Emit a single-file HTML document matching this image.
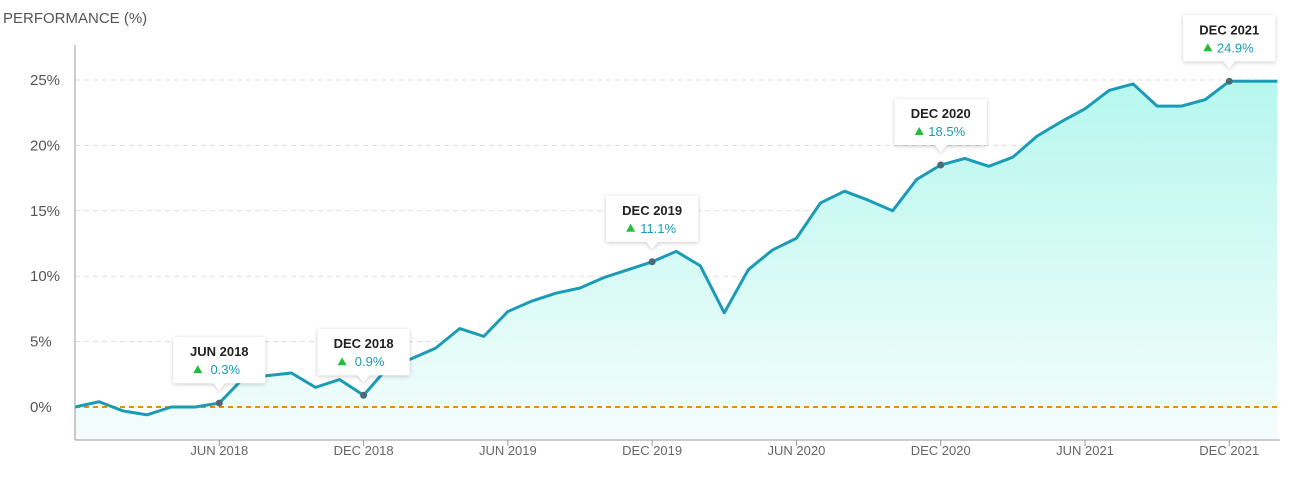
<!DOCTYPE html>
<html><head><meta charset="utf-8"><style>
body{margin:0;background:#fff;font-family:"Liberation Sans",sans-serif}
svg text{font-family:"Liberation Sans",sans-serif}
</style></head><body>
<svg id="c" width="1290" height="490" viewBox="0 0 1290 490">
<defs>
<linearGradient id="ag" x1="0" y1="0" x2="0" y2="1"><stop offset="0" stop-color="#b6f7ee"/><stop offset="1" stop-color="#f5fdfc"/></linearGradient>
<filter id="sh" x="-20%" y="-20%" width="140%" height="160%"><feDropShadow dx="0" dy="1" stdDeviation="2" flood-color="#000" flood-opacity="0.22"/></filter>
</defs>
<text x="3" y="23" font-size="15" fill="#555">PERFORMANCE (%)</text>
<g id="grid"></g><g id="area"></g><g id="axes"></g><g id="tips"></g>
</svg>
<script>
const months=["DEC 2017","JAN 2018","FEB 2018","MAR 2018","APR 2018","MAY 2018","JUN 2018","JUL 2018","AUG 2018","SEP 2018","OCT 2018","NOV 2018","DEC 2018","JAN 2019","FEB 2019","MAR 2019","APR 2019","MAY 2019","JUN 2019","JUL 2019","AUG 2019","SEP 2019","OCT 2019","NOV 2019","DEC 2019","JAN 2020","FEB 2020","MAR 2020","APR 2020","MAY 2020","JUN 2020","JUL 2020","AUG 2020","SEP 2020","OCT 2020","NOV 2020","DEC 2020","JAN 2021","FEB 2021","MAR 2021","APR 2021","MAY 2021","JUN 2021","JUL 2021","AUG 2021","SEP 2021","OCT 2021","NOV 2021","DEC 2021","JAN 2022","FEB 2022"];
const values=[0,0.4,-0.3,-0.6,0,0,0.3,2.2,2.4,2.6,1.5,2.1,0.9,3.0,3.7,4.5,6.0,5.4,7.3,8.1,8.7,9.1,9.9,10.5,11.1,11.9,10.8,7.2,10.5,12.0,12.9,15.6,16.5,15.8,15.0,17.4,18.5,19.0,18.4,19.1,20.7,21.8,22.8,24.2,24.7,23.0,23.0,23.5,24.9,24.9,24.9];
const yTicks=[0,5,10,15,20,25];
const xTickLabels=["JUN 2018","DEC 2018","JUN 2019","DEC 2019","JUN 2020","DEC 2020","JUN 2021","DEC 2021"];
const markers=["JUN 2018","DEC 2018","DEC 2019","DEC 2020","DEC 2021"];
const NS="http://www.w3.org/2000/svg";
const x0=75,dx=(1229-219)/42;
const X=i=>x0+i*dx;
const Y=v=>407-v*(407-80)/25;
function mk(t,a,p){const e=document.createElementNS(NS,t);for(const k in a)e.setAttribute(k,a[k]);(p||document.getElementById('c')).appendChild(e);return e;}
const G=document.getElementById('grid'),A=document.getElementById('area'),AX=document.getElementById('axes'),T=document.getElementById('tips');
yTicks.forEach(v=>{
 if(v>0){const l=mk('line',{x1:x0,x2:1280,y1:Y(v),y2:Y(v),stroke:'#ddd','stroke-dasharray':'5,4'},G);
 
 }
 const t=mk('text',{x:30,y:Y(v)+5,'font-size':15,fill:'#555'},G);t.textContent=v+'%';
 
 
});
let pts=values.map((v,i)=>X(i)+','+Y(v));
const ar=mk('polygon',{points:X(0)+','+Y(0)+' '+pts.join(' ')+' '+X(values.length-1)+',440 '+X(0)+',440',fill:'url(#ag)'},A);


const zl=mk('line',{x1:x0,x2:1280,y1:Y(0),y2:Y(0),stroke:'#f08a00','stroke-width':2,'stroke-dasharray':'5,4'},A);


const ln=mk('polyline',{points:pts.join(' '),fill:'none',stroke:'#1b9bb6','stroke-width':3,'stroke-linejoin':'round'},A);


const ya=mk('line',{x1:x0,x2:x0,y1:45,y2:440,stroke:'#999','stroke-width':1},AX);


const xa=mk('line',{x1:x0,x2:1280,y1:440,y2:440,stroke:'#999','stroke-width':1},AX);


xTickLabels.forEach(lb=>{const i=months.indexOf(lb);
 mk('line',{x1:X(i),x2:X(i),y1:440,y2:446,stroke:'#999'},AX);
 const t=mk('text',{x:X(i),y:455,'font-size':13,fill:'#666','text-anchor':'middle'},AX);t.textContent=lb;
 
 
});
markers.forEach(lb=>{const i=months.indexOf(lb),px=X(i),py=Y(values[i]);
 const g=mk('g',{},T);
 
 
 const w=92,h=46,bx=px-w/2,by=py-20-h;
 mk('path',{d:`M${bx},${by} h${w} v${h} h-${w/2-6} l-6,7 l-6,-7 h-${w/2-6} z`,fill:'#fff',filter:'url(#sh)'},g);
 const t1=mk('text',{x:px,y:by+19,'font-size':13,'font-weight':'bold',fill:'#222','text-anchor':'middle'},g);t1.textContent=lb;
 const t2=mk('text',{x:px+6,y:by+37,'font-size':13,fill:'#1b9bb6','text-anchor':'middle'},g);t2.textContent=values[i].toFixed(1)+'%';
 mk('path',{d:`M${px-26},${by+36} l4.5,-8 l4.5,8 z`,fill:'#1fbf3a'},g);
 const c=mk('circle',{cx:px,cy:py,r:3.5,fill:'#4a6a7a'},g);
 
 
});
</script>
</body></html>
